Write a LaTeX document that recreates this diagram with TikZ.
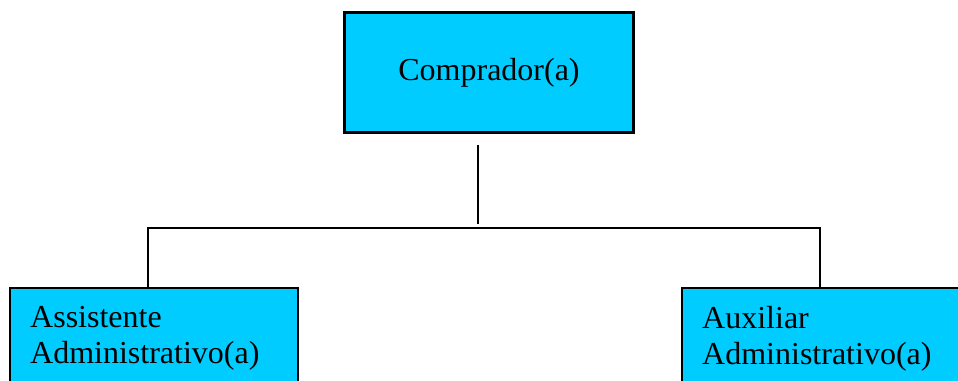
\documentclass[tikz,border=0pt]{standalone}
\usepackage{fontspec}
\setmainfont{Liberation Serif}
\definecolor{boxcyan}{RGB}{0,204,255}
\begin{document}
\begin{tikzpicture}[x=1pt,y=-1pt,
  orgbox/.style={draw=black,line width=2.2pt,fill=boxcyan,rectangle,inner sep=0pt},
  orgtext/.style={font=\fontsize{32}{36}\selectfont,inner sep=0pt,align=left},
  conn/.style={draw=black,line width=2.2pt}]
\useasboundingbox (0,0) rectangle (958,380);
\clip (0,0) rectangle (958,380);
\node[orgbox,minimum width=289pt,minimum height=120pt] (top) at (489,72.5) {};
\node[orgtext] (toptext) at (top.center) {Comprador(a)};
\node[orgbox,minimum width=288pt,minimum height=140pt,anchor=north west] (asst) at (9,287) {};
\node[orgbox,minimum width=320pt,minimum height=140pt,anchor=north west] (aux) at (681,287) {};
\node[orgtext,anchor=north west] (asstext) at (30,306) {Assistente\\Administrativo(a)};
\node[orgtext,anchor=north west] (auxtext) at (702,306) {Auxiliar\\Administrativo(a)};
\coordinate (vs) at (478,145);
\coordinate (ve) at (478,223.5);
\coordinate (bl) at (148,228);
\coordinate (br) at (820,228);
\draw[conn] (vs) -- (ve);
\draw[conn] (asst.north -| bl) -- (bl) -- (br) -- (aux.north -| br);
\end{tikzpicture}
\end{document}
